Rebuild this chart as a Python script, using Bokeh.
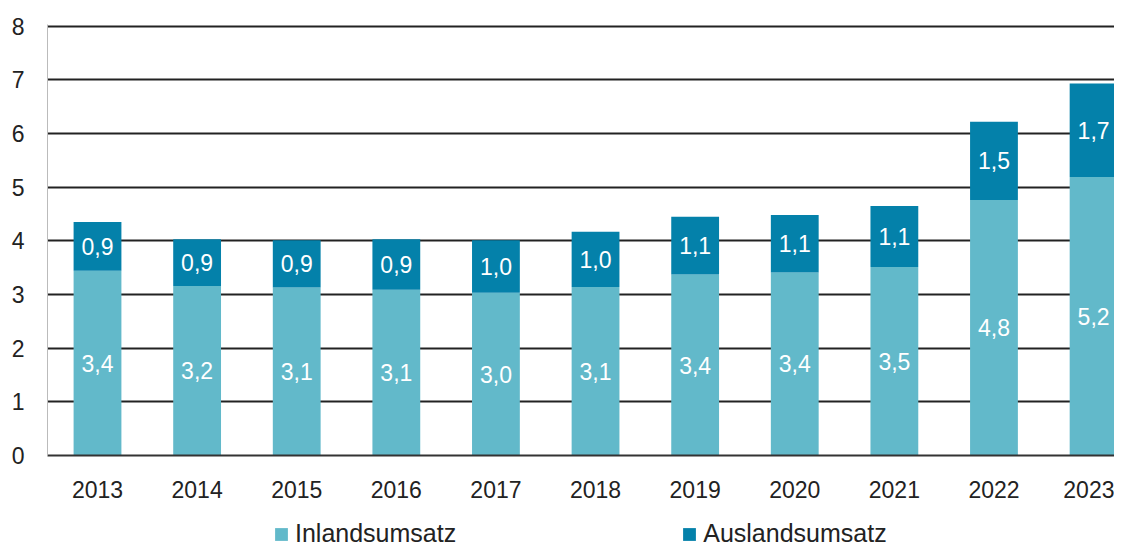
from bokeh.plotting import figure
from bokeh.layouts import column
from bokeh.models import ColumnDataSource, Range1d, FixedTicker, Legend, LegendItem
from bokeh.core.properties import value
from bokeh.embed import file_html
from bokeh.resources import INLINE

years = ["2013", "2014", "2015", "2016", "2017", "2018", "2019", "2020", "2021", "2022", "2023"]
inland = [3.44, 3.16, 3.13, 3.09, 3.03, 3.14, 3.37, 3.41, 3.51, 4.76, 5.19]
ausland = [0.91, 0.87, 0.88, 0.94, 0.98, 1.03, 1.08, 1.07, 1.14, 1.46, 1.74]
y_ticks = [0, 1, 2, 3, 4, 5, 6, 7, 8]
series_names = ["Inlandsumsatz", "Auslandsumsatz"]

FONT = "Liberation Sans"
C_IN = "#62B9CA"
C_AUS = "#0481AA"

def fmt(v):
    return f"{v:.1f}".replace(".", ",")

x = list(range(len(years)))
top_all = [a + b for a, b in zip(inland, ausland)]
src = ColumnDataSource(dict(
    x=x,
    top_in=inland,
    top_all=top_all,
    mid_in=[v / 2 for v in inland],
    mid_aus=[a + b / 2 for a, b in zip(inland, ausland)],
    lab_in=[fmt(v) for v in inland],
    lab_aus=[fmt(v) for v in ausland],
))

p = figure(width=1114, height=505, output_backend="svg", toolbar_location=None,
           x_range=Range1d(-0.502, 10.21), y_range=Range1d(0, 8.03),
           min_border_left=47, min_border_top=24, min_border_right=0,
           min_border_bottom=50)
p.outline_line_color = None

p.vbar(x="x", bottom=0, top="top_in", width=0.48, source=src,
       fill_color=C_IN, line_color=None)
p.vbar(x="x", bottom="top_in", top="top_all", width=0.48, source=src,
       fill_color=C_AUS, line_color=None)

p.text(x="x", y="mid_in", text="lab_in", source=src, text_align="center",
       text_baseline="middle", text_color="white", text_font=value(FONT),
       text_font_size="23px")
p.text(x="x", y="mid_aus", text="lab_aus", source=src, text_align="center",
       text_baseline="middle", text_color="white", text_font=value(FONT),
       text_font_size="23px")

p.xaxis.ticker = FixedTicker(ticks=x)
p.xaxis.major_label_overrides = {i: y for i, y in enumerate(years)}
p.xaxis.major_tick_line_color = None
p.xaxis.major_tick_out = 0
p.xaxis.major_tick_in = 0
p.xaxis.minor_tick_line_color = None
p.xaxis.axis_line_color = "#333333"
p.xaxis.axis_line_width = 2
p.xaxis.major_label_standoff = 25
p.xaxis.major_label_text_font = FONT
p.xaxis.major_label_text_font_size = "23px"
p.xaxis.major_label_text_color = "#222222"

p.yaxis.ticker = FixedTicker(ticks=y_ticks)
p.yaxis.major_tick_line_color = None
p.yaxis.major_tick_out = 0
p.yaxis.major_tick_in = 0
p.yaxis.minor_tick_line_color = None
p.yaxis.axis_line_color = "#BBBBBB"
p.yaxis.axis_line_width = 1
p.yaxis.major_label_standoff = 23
p.yaxis.major_label_text_font = FONT
p.yaxis.major_label_text_font_size = "23px"
p.yaxis.major_label_text_color = "#222222"

p.xgrid.grid_line_color = None
p.ygrid.ticker = FixedTicker(ticks=y_ticks[1:])
p.ygrid.grid_line_color = "#222222"
p.ygrid.grid_line_width = 2

# legend strip below the chart (its frame is aligned with the chart's frame)
lg = figure(width=1114, height=43, output_backend="svg", toolbar_location=None,
            x_range=Range1d(100, 101), y_range=Range1d(100, 101),
            x_axis_location=None, y_axis_location=None,
            min_border=0, min_border_left=0, min_border_right=0,
            min_border_top=0, min_border_bottom=0)
lg.outline_line_color = None
lg.xgrid.grid_line_color = None
lg.ygrid.grid_line_color = None
k_in = lg.vbar(x="x", top="top_in", width=0.48, source=src,
               fill_color=C_IN, line_color=None)
k_aus = lg.vbar(x="x", top="top_all", width=0.48, source=src,
                fill_color=C_AUS, line_color=None)
legend = Legend(items=[LegendItem(label=series_names[0], renderers=[k_in]),
                       LegendItem(label=series_names[1], renderers=[k_aus])],
                orientation="horizontal", location=(226, 0),
                glyph_width=16, glyph_height=16, label_standoff=6, spacing=225,
                label_text_font=FONT, label_text_font_size="25px",
                label_text_color="#222222", border_line_color=None,
                background_fill_alpha=0, padding=0, margin=0)
lg.add_layout(legend, "center")

open("out.html", "w").write(file_html(column(p, lg, spacing=0), INLINE))
